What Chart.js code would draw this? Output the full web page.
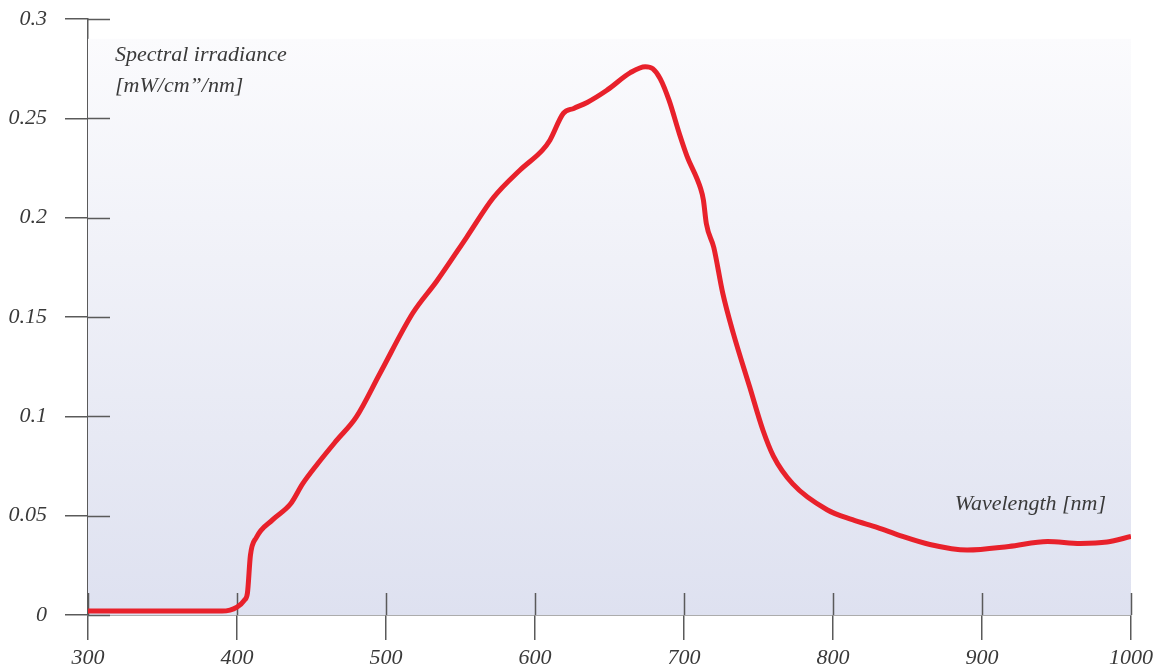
<!DOCTYPE html>
<html><head><meta charset="utf-8">
<script src="https://cdn.jsdelivr.net/npm/chart.js@4/dist/chart.umd.min.js"></script>
<style>html,body{margin:0;padding:0;background:#fff;}#wrap{width:1163px;height:666px;position:relative;}</style>
</head><body><div id="wrap"><canvas id="c" width="1163" height="666"></canvas></div>
<script>
const wavelengths = [300,350,390,400,405,407,409,413,424,436,444,454,467,480,496,518,534,554,572,590,605,610,619,626,635,648,664,674,679,684,690,697,702,711,713,715,720,726,733,744,753,760,773,796,813,830,845,865,890,918,944,966,984,1000];
const irradiance = [0.002,0.002,0.002,0.004,0.0075,0.011,0.030,0.039,0.048,0.056,0.066,0.076,0.088,0.0996,0.1217,0.152,0.168,0.190,0.210,0.224,0.234,0.239,0.2525,0.255,0.258,0.264,0.273,0.276,0.275,0.270,0.259,0.242,0.231,0.215,0.209,0.197,0.185,0.162,0.142,0.115,0.093,0.080,0.066,0.053,0.048,0.044,0.040,0.0355,0.0327,0.0345,0.037,0.036,0.0367,0.0395];
const xTicks = [300,400,500,600,700,800,900,1000];
const xLabels = ['300','400','500','600','700','800','900','1000'];
const yTicks = [0,0.05,0.1,0.15,0.2,0.25,0.3];
const yLabels = ['0','0.05','0.1','0.15','0.2','0.25','0.3'];
const yTitle = ['Spectral irradiance','[mW/cm\u201D/nm]'];
const xTitle = 'Wavelength [nm]';

const FONT = {family:'"Liberation Serif", "DejaVu Serif", serif', style:'italic', size:22};
const AXC = '#5a5a5a';

const bgPlugin = {
  id:'bg',
  beforeDatasetsDraw(chart){
    const {ctx, chartArea:a, scales:{x,y}} = chart;
    const top = y.getPixelForValue(0.29);
    const g = ctx.createLinearGradient(0, top, 0, a.bottom);
    g.addColorStop(0,'#fbfbfd');
    g.addColorStop(1,'#dee1f0');
    ctx.save();
    ctx.fillStyle = g;
    ctx.fillRect(a.left, top, a.right - a.left, a.bottom - top);
    ctx.strokeStyle = AXC; ctx.lineWidth = 1.5;
    ctx.beginPath();
    yTicks.forEach(v=>{ const p=Math.round(y.getPixelForValue(v))+0.5; ctx.moveTo(a.left,p); ctx.lineTo(a.left+22,p); });
    xTicks.forEach(v=>{ const p=Math.round(x.getPixelForValue(v))+0.5; ctx.moveTo(p,a.bottom); ctx.lineTo(p,a.bottom-22); });
    ctx.stroke();
    ctx.restore();
  },
  afterDraw(chart){
    const {ctx, chartArea:a} = chart;
    ctx.save();
    ctx.fillStyle = '#3a3a3a';
    ctx.font = 'italic 22px "Liberation Serif", serif';
    ctx.textBaseline = 'middle';
    ctx.textAlign = 'left';
    ctx.fillText(yTitle[0], a.left+27, 55);
    ctx.fillText(yTitle[1], a.left+27, 86);
    ctx.textAlign = 'right';
    ctx.fillText(xTitle, a.right-25, 504);
    ctx.restore();
  }
};

new Chart(document.getElementById('c'), {
  type:'line',
  data:{ datasets:[{
    data: wavelengths.map((w,i)=>({x:w, y:irradiance[i]})),
    borderColor:'#e8212b', borderWidth:5, pointRadius:0,
    cubicInterpolationMode:'monotone', fill:false
  }]},
  options:{
    responsive:false, animation:false,
    layout:{padding:{top:19,right:32,left:0,bottom:0}},
    plugins:{legend:{display:false}, tooltip:{enabled:false}},
    scales:{
      x:{ type:'linear', min:300, max:1000,
        afterBuildTicks(s){ s.ticks = xTicks.map(v=>({value:v})); },
        afterFit(s){ s.height = 51; s.paddingLeft = 0; s.paddingRight = 0; },
        border:{display:true, color:AXC, width:1.5},
        grid:{drawOnChartArea:false, drawTicks:true, tickLength:25, color:AXC, lineWidth:1.5},
        ticks:{font:FONT, color:'#3a3a3a', padding:5, maxRotation:0, autoSkip:false,
          callback:(v)=>{ const i=xTicks.indexOf(v); return i>=0?xLabels[i]:''; } }
      },
      y:{ type:'linear', min:0, max:0.3,
        afterBuildTicks(s){ s.ticks = yTicks.map(v=>({value:v})); },
        afterFit(s){ s.width = 88; s.paddingTop = 0; s.paddingBottom = 0; },
        border:{display:true, color:AXC, width:1.5},
        grid:{drawOnChartArea:false, drawTicks:true, tickLength:23, color:AXC, lineWidth:1.5},
        ticks:{font:FONT, color:'#3a3a3a', padding:18, autoSkip:false,
          callback:(v)=>{ const i=yTicks.indexOf(v); return i>=0?yLabels[i]:''; } }
      }
    }
  },
  plugins:[bgPlugin]
});
</script></body></html>
